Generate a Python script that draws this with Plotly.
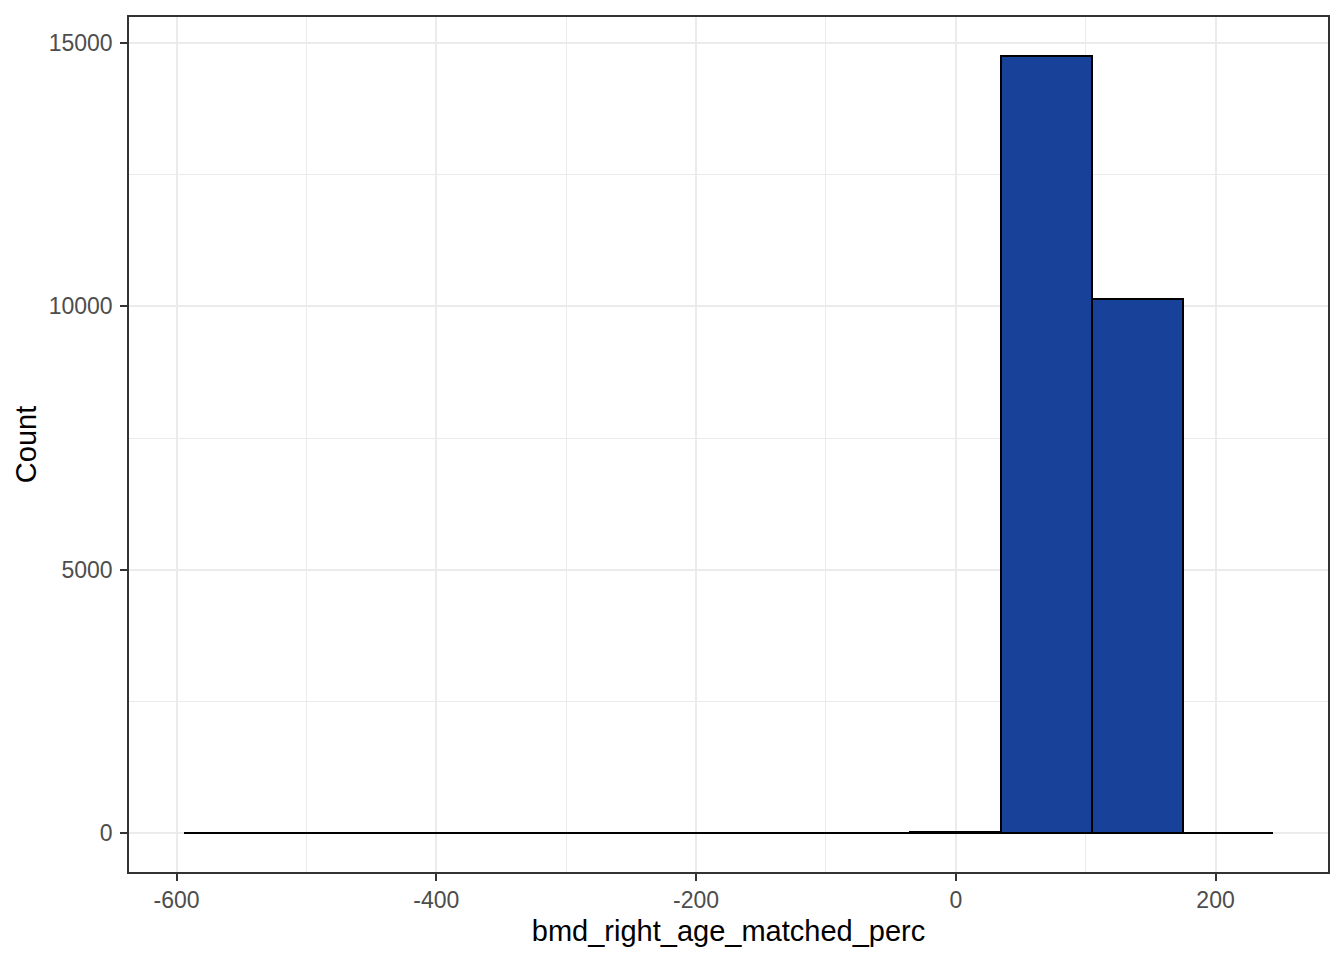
import plotly.graph_objects as go

bin_edges = [-594.6, -524.67, -454.74, -384.81, -314.88, -244.95, -175.02,
             -105.09, -35.16, 34.77, 104.7, 174.63, 244.56]
counts = [1, 0, 0, 0, 0, 0, 0, 2, 28, 14755, 10145, 3]
x_ticks = [-600, -400, -200, 0, 200]
y_ticks = [0, 5000, 10000, 15000]

centers = [(a + b) / 2 for a, b in zip(bin_edges[:-1], bin_edges[1:])]
widths = [b - a for a, b in zip(bin_edges[:-1], bin_edges[1:])]

fig = go.Figure(go.Bar(
    x=centers, y=counts, width=widths,
    marker=dict(color="#18429A", line=dict(color="black", width=2)),
    hoverinfo="x+y",
))

grid = "#EBEBEB"
fig.update_layout(
    width=1336, height=952,
    margin=dict(l=121, r=16, t=7, b=88),
    paper_bgcolor="white", plot_bgcolor="white",
    font=dict(family="Liberation Sans, Arial, sans-serif", color="#4D4D4D", size=23),
    showlegend=False,
    bargap=0,
)
fig.update_xaxes(
    range=[-636.6, 286.6], tickvals=x_ticks, ticktext=[str(v) for v in x_ticks],
    showgrid=True, gridcolor=grid, gridwidth=2,
    minor=dict(tickvals=[-500, -300, -100, 100], showgrid=True, gridcolor=grid, gridwidth=1),
    ticks="outside", ticklen=7, tickwidth=2, tickcolor="#333333",
    showline=True, linecolor="#333333", linewidth=1.5, mirror=True,
    zeroline=False,
    title=dict(text="bmd_right_age_matched_perc", font=dict(size=29, color="black"), standoff=8),
)
fig.update_yaxes(
    range=[-738, 15493], tickvals=y_ticks, ticktext=[str(v) for v in y_ticks],
    showgrid=True, gridcolor=grid, gridwidth=2,
    minor=dict(tickvals=[2500, 7500, 12500], showgrid=True, gridcolor=grid, gridwidth=1),
    ticks="outside", ticklen=7, tickwidth=2, tickcolor="#333333",
    ticklabelstandoff=3,
    showline=True, linecolor="#333333", linewidth=1.5, mirror=True,
    zeroline=False,
    title=dict(text="Count", font=dict(size=29, color="black"), standoff=4),
)

fig.write_html("out.html")
